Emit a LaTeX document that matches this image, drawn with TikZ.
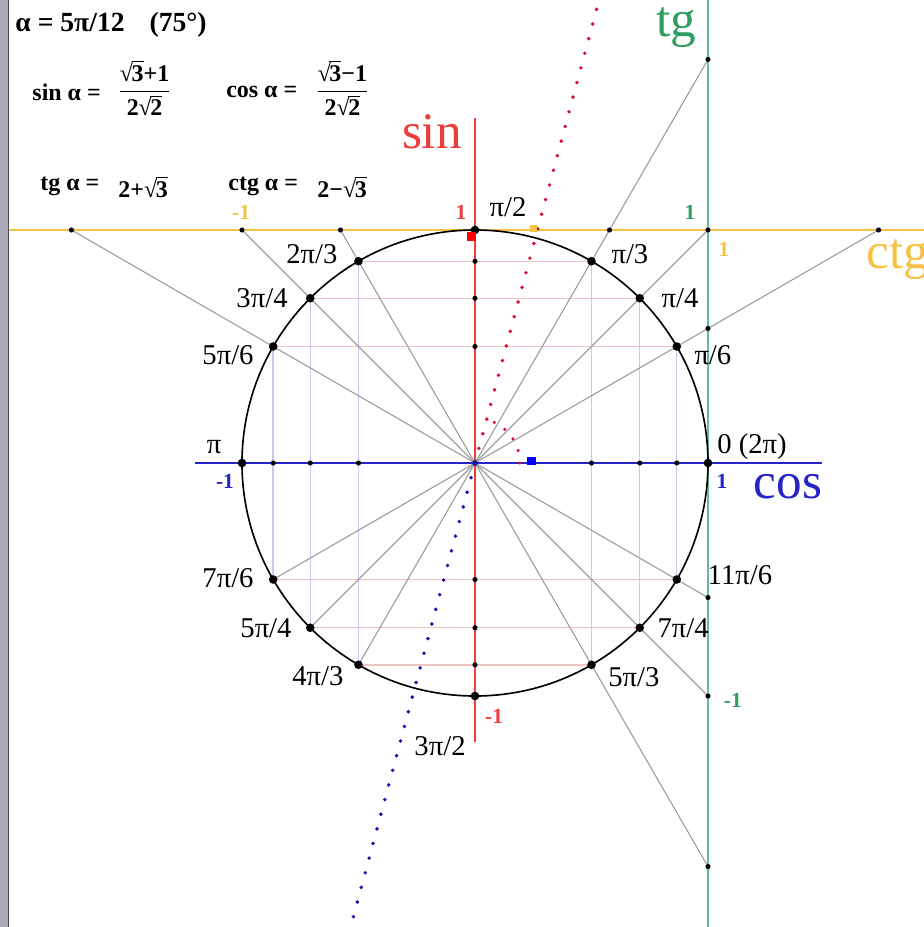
\documentclass[tikz,border=0pt]{standalone}
\usepackage{amsmath}
\usepackage{fontspec}
\setmainfont{Liberation Serif}
\usetikzlibrary{calc}

\definecolor{sinred}{HTML}{EE3B3B}
\definecolor{cosblue}{HTML}{2424C8}
\definecolor{tggreen}{HTML}{62BE8E}
\definecolor{tgtext}{HTML}{2E9E5E}
\definecolor{ctgorange}{HTML}{F6C244}
\definecolor{dotred}{HTML}{D8102E}
\definecolor{dotblue}{HTML}{1414AA}
\definecolor{pinkproj}{HTML}{F0C4C4}
\definecolor{blueproj}{HTML}{C8C8F2}
\definecolor{framegray}{HTML}{A9A9B6}

\newcommand{\sqrtt}[1]{√\kern-0.06em$\overline{\mbox{#1}}$}

\begin{document}
\begin{tikzpicture}[
  x=4cm, y=4cm,
  font=\fontsize{14}{14}\selectfont,
  ray/.style={draw=black!38, line width=0.55pt},
  hproj/.style={draw=pinkproj, line width=0.7pt},
  vproj/.style={draw=blueproj, line width=0.7pt},
  bigdot/.style={circle, fill=black, inner sep=0pt, minimum size=4.2pt},
  smalldot/.style={circle, fill=black, inner sep=0pt, minimum size=2.5pt},
  tick/.style={font=\fontsize{10.5}{10.5}\selectfont\bfseries, inner sep=0pt},
  axlab/.style={font=\fontsize{25}{25}\selectfont, inner sep=0pt},
  formula/.style={font=\fontsize{11.7}{11.7}\selectfont\bfseries, inner sep=0pt},
  dotline/.style={line width=1.9pt, line cap=round, dash pattern=on 0pt off 7.4pt},
  sqmark/.style={inner sep=0pt, minimum size=4pt},
]
\useasboundingbox (-2.0386,-1.9914) rectangle (1.9270,1.9871);
\def\rt{1.7320508}
\def\ir{0.5773503}

%% frame at the left
\fill[framegray] (-2.0386,-1.9914) rectangle (-2.0043,1.9871);
\draw[black!70, line width=0.6pt] (-2.002,-1.9914) -- (-2.002,1.9871);

%% points on the circle, tg line and ctg line
\coordinate (O) at (0,0);
\foreach \a in {0,30,45,60,90,120,135,150,180,210,225,240,270,300,315,330}
  \coordinate (p\a) at (\a:1);
\coordinate (t60) at (1,\rt);   \coordinate (t45) at (1,1);    \coordinate (t30) at (1,\ir);
\coordinate (t330) at (1,-\ir); \coordinate (t315) at (1,-1);  \coordinate (t300) at (1,-\rt);
\coordinate (c30) at (\rt,1);   \coordinate (c60) at (\ir,1);
\coordinate (c120) at (-\ir,1); \coordinate (c135) at (-1,1);  \coordinate (c150) at (-\rt,1);

%% projections
\foreach \a/\b in {150/30,135/45,120/60,210/330,225/315,240/300}{\draw[hproj] (p\a) -- (p\b);}
\foreach \a/\b in {60/300,45/315,30/330,120/240,135/225,150/210}{\draw[vproj] (p\a) -- (p\b);}

%% rays through the centre
\foreach \a/\b in {c30/p210,t45/p225,t60/p240,t330/c150,t315/c135,t300/c120}{\draw[ray] (\a) -- (\b);}

%% axes
\coordinate (sinlo) at (0,-1.197);    \coordinate (sinhi) at (0,1.481);
\coordinate (coslo) at (-1.202,0);    \coordinate (coshi) at (1.489,0);
\coordinate (tglo) at (1,-1.9914);    \coordinate (tghi) at (1,1.9871);
\coordinate (ctglo) at (-2.0,1);      \coordinate (ctghi) at (1.927,1);
\draw[ctgorange, line width=1.3pt] (ctglo) -- (ctghi);
\draw[tggreen, line width=1.4pt] (tglo) -- (tghi);
\draw[sinred, line width=0.9pt] (sinlo) -- (sinhi);
\draw[cosblue, line width=1pt] (coslo) -- (coshi);

%% unit circle
\draw[line width=0.8pt] (O) circle[radius=1];

%% the angle alpha
\coordinate (rend) at (75:2.06);
\coordinate (bend) at (255:2.07);
\draw[dotline, dotred] (O) -- (rend);
\draw[dotline, dotblue] (O) -- (bend);
\draw[dotred, line width=1.7pt, line cap=round, dash pattern=on 0pt off 6.2pt]
  (0.193,0) arc[start angle=0, end angle=75, radius=0.193];

%% dots
\foreach \a in {0,30,45,60,90,120,135,150,180,210,225,240,270,300,315,330}
  \node[bigdot] (d\a) at (p\a) {};
\foreach \s [count=\k] in {0.5,0.7071068,0.8660254}{
  \node[smalldot] (sx\k) at (\s,0) {};  \node[smalldot] (sxm\k) at (-\s,0) {};
  \node[smalldot] (sy\k) at (0,\s) {};  \node[smalldot] (sym\k) at (0,-\s) {};
}
\foreach \n in {t60,t45,t30,t330,t315,t300,c30,c60,c120,c135,c150}
  \node[smalldot] (d\n) at (\n) {};
\node[smalldot, fill=dotblue, minimum size=2.8pt] (dO) at (O) {};

%% sin, cos, ctg of alpha
\node[sqmark, fill=red, minimum size=4.4pt] (sinpt) at (-0.014,0.971) {};
\node[sqmark, fill=blue, minimum size=4.1pt] (cospt) at (0.243,0.009) {};
\node[sqmark, fill=ctgorange, minimum size=3.6pt] (ctgpt) at (0.252,1.006) {};

%% angle labels
\foreach \u/\v/\lab [count=\k] in {
  0.142/1.099/{π/2}, 0.665/0.897/{π/3}, 0.880/0.708/{π/4}, 1.021/0.464/{π/6},
  1.189/0.069/{0 (2π)}, 1.137/-0.481/{11π/6}, 0.893/-0.708/{7π/4}, 0.682/-0.918/{5π/3},
  -0.150/-1.215/{3π/2}, -0.674/-0.914/{4π/3}, -0.897/-0.708/{5π/4}, -1.060/-0.494/{7π/6},
  -1.120/0.069/{π}, -1.060/0.464/{5π/6}, -0.914/0.708/{3π/4}, -0.700/0.897/{2π/3}}
  \node[inner sep=0pt] (ang\k) at (\u,\v) {\lab};

%% axis names and unit marks
\node[axlab, text=sinred] (sinlab) at (-0.185,1.421) {sin};
\node[axlab, text=cosblue] (coslab) at (1.343,-0.103) {cos};
\node[axlab, text=tgtext, anchor=base] (tglab) at (0.863,1.832) {tg};
\node[axlab, text=ctgorange, anchor=west] (ctglab) at (1.678,0.871) {ctg};
\node[tick, text=sinred] (sin1) at (-0.060,1.077) {1};
\node[tick, text=sinred] (sinm1) at (0.082,-1.086) {-1};
\node[tick, text=cosblue] (cosm1) at (-1.073,-0.077) {-1};
\node[tick, text=cosblue] (cos1) at (1.060,-0.077) {1};
\node[tick, text=tgtext] (tg1) at (0.923,1.077) {1};
\node[tick, text=tgtext] (tgm1) at (1.107,-1.017) {-1};
\node[tick, text=ctgorange] (ctgm1) at (-1.004,1.077) {-1};
\node[tick, text=ctgorange] (ctg1) at (1.069,0.918) {1};

%% values of alpha
\node[formula, font=\fontsize{13.5}{13.5}\selectfont\bfseries, anchor=west] (alpha) at (-1.974,1.880)
  {α = 5π/12\hspace{0.9em}(75°)};
\node[formula, anchor=west] (sinf) at (-1.901,1.592) {sin α =};
\node[formula] (sinv) at (-1.418,1.609) {$\dfrac{\text{\sqrtt{3}+1}}{\text{2\sqrtt{2}}}$};
\node[formula, anchor=west] (cosf) at (-1.069,1.592) {cos α =};
\node[formula] (cosv) at (-0.569,1.609) {$\dfrac{\text{\sqrtt{3}−1}}{\text{2\sqrtt{2}}}$};
\node[formula, anchor=west] (tgf) at (-1.867,1.185) {tg α =};
\node[formula, anchor=west] (tgv) at (-1.532,1.185) {2+\sqrtt{3}};
\node[formula, anchor=west] (ctgf) at (-1.060,1.185) {ctg α =};
\node[formula, anchor=west] (ctgv) at (-0.678,1.185) {2−\sqrtt{3}};
\end{tikzpicture}
\end{document}
